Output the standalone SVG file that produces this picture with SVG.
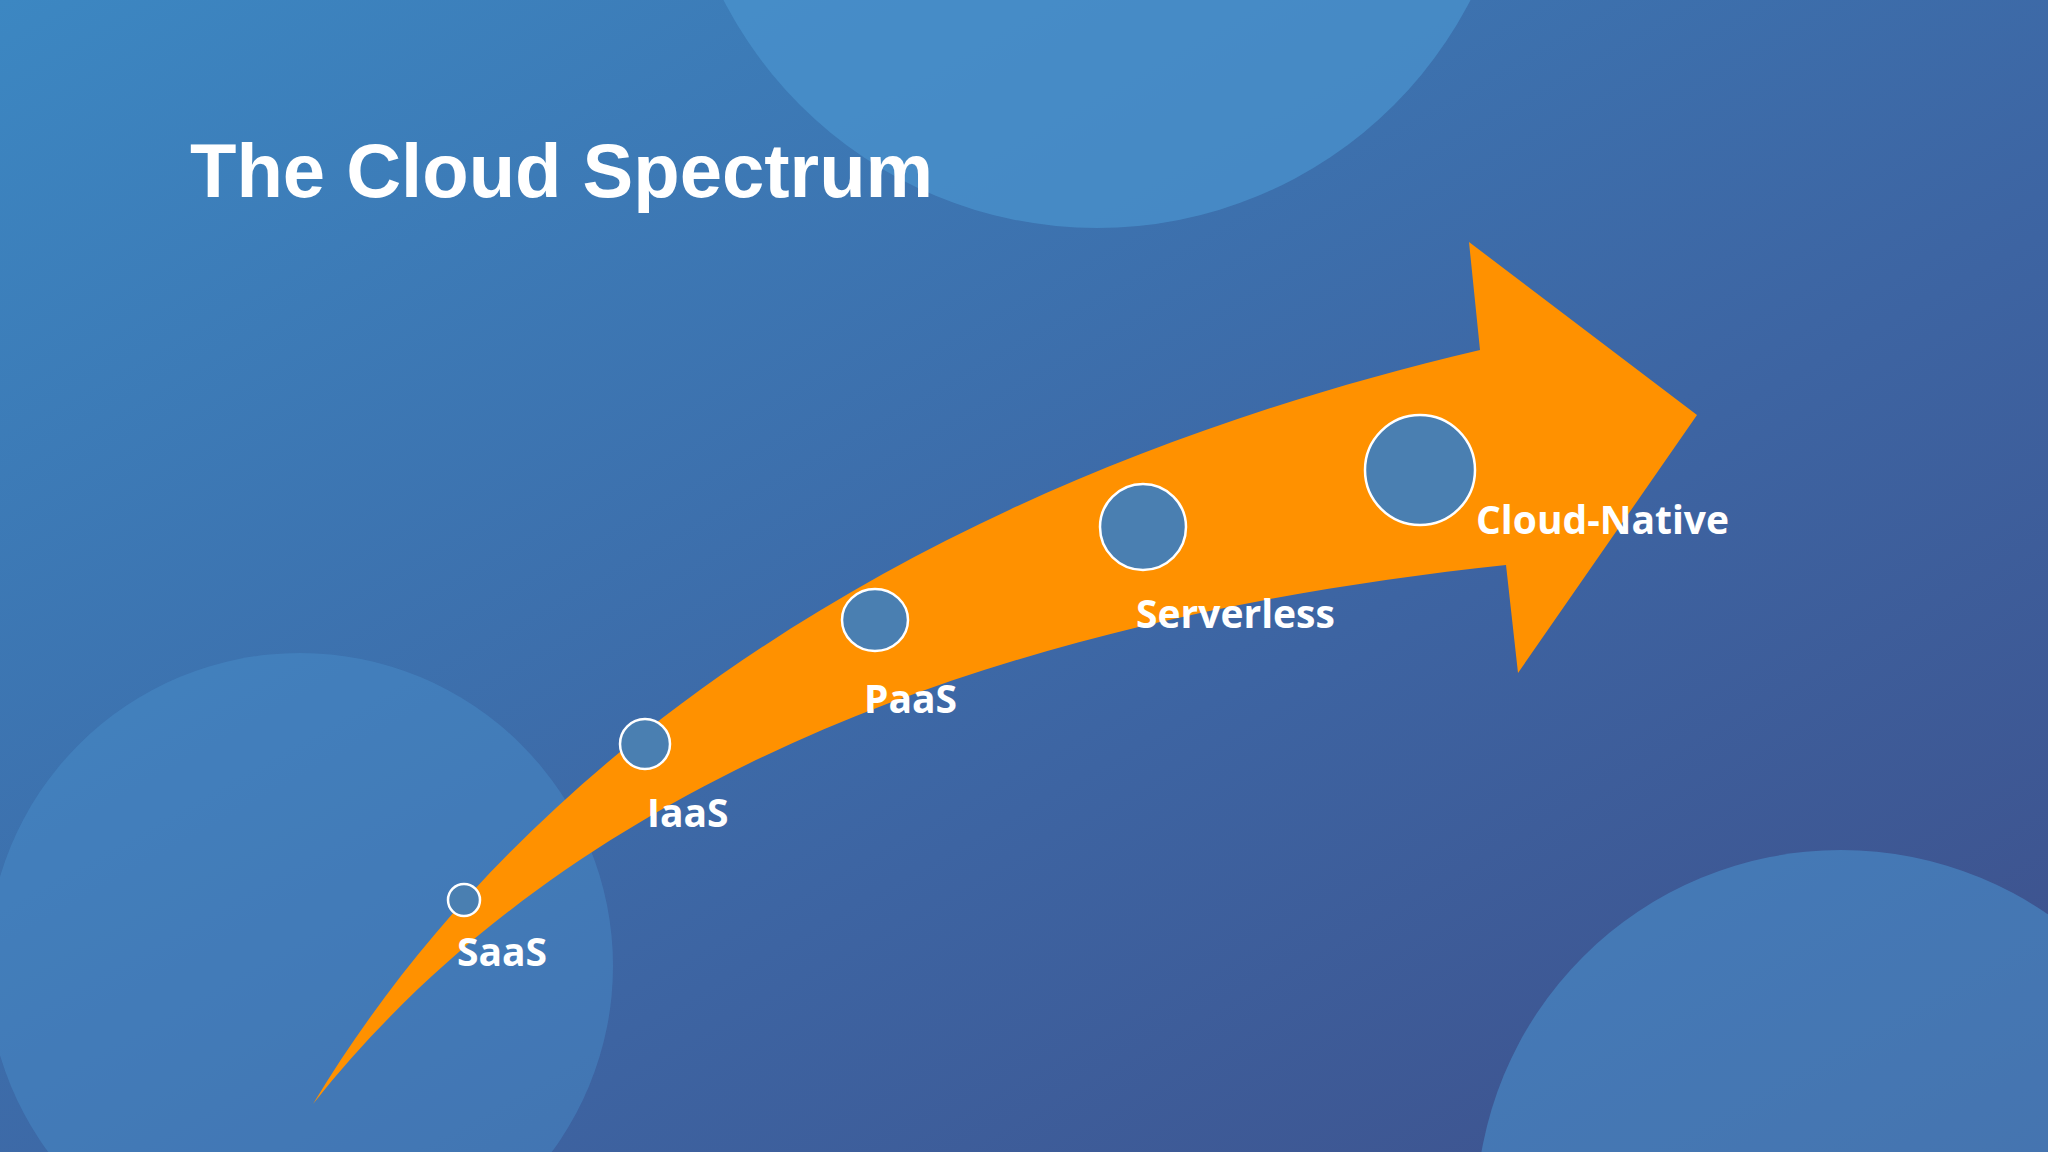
<svg xmlns="http://www.w3.org/2000/svg" width="2048" height="1152" viewBox="0 0 2048 1152">
<defs>
<linearGradient id="bg" x1="0" y1="0" x2="1" y2="1">
<stop offset="0" stop-color="#3c87c2"/>
<stop offset="0.6" stop-color="#3d64a2"/>
<stop offset="1" stop-color="#3e4f8a"/>
</linearGradient>
<style>
.blob{fill:#4a94cf}
.dot{fill:#4a7fb1;stroke:#ffffff;stroke-width:2.5}
.lbl{font-family:"Open Sans","Noto Sans",sans-serif;font-weight:700;font-size:39px;fill:#ffffff}
</style>
</defs>
<rect width="2048" height="1152" fill="url(#bg)"/>
<circle class="blob" cx="1097" cy="-192" r="420" opacity="0.7"/>
<circle class="blob" cx="300" cy="966" r="313" opacity="0.4"/>
<circle class="blob" cx="1841" cy="1215" r="365" opacity="0.55"/>
<text x="190" y="197" font-family="Liberation Sans, Arial, sans-serif" font-weight="700" font-size="76" fill="#ffffff">The Cloud Spectrum</text>
<g id="connectors">
<path d="M313,1104 C522,757 914,483 1480,350 L1469,242 L1697,415 L1518,673 L1506,565 C1045,614 588,757 313,1104 Z" fill="#ff9100"/>
</g>
<g id="saas"><circle class="dot" cx="464" cy="900" r="16"/><text class="lbl" x="457" y="966">SaaS</text></g>
<g id="iaas"><circle class="dot" cx="645" cy="744" r="25"/><text class="lbl" x="647" y="827">IaaS</text></g>
<g id="paas"><ellipse class="dot" cx="875" cy="620" rx="33" ry="31"/><text class="lbl" x="864" y="713">PaaS</text></g>
<g id="serverless"><circle class="dot" cx="1143" cy="527" r="43"/><text class="lbl" x="1136" y="628">Serverless</text></g>
<g id="cloudnative"><circle class="dot" cx="1420" cy="470" r="55"/><text class="lbl" x="1476" y="534">Cloud-Native</text></g>
</svg>
